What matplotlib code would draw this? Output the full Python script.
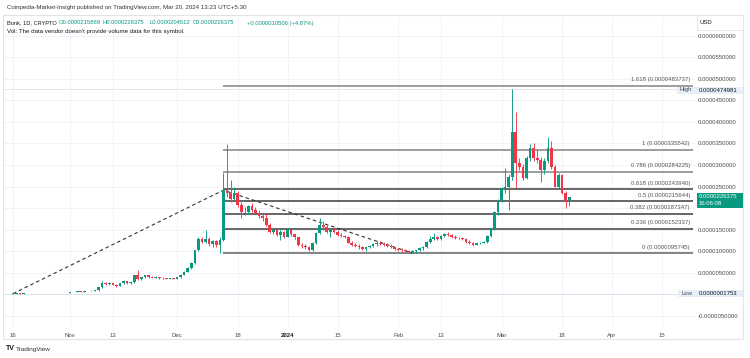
import numpy as np
import pandas as pd
import matplotlib
matplotlib.use('Agg')
import matplotlib.pyplot as plt
import matplotlib.dates as mdates
from matplotlib.patches import Rectangle

plt.rcParams['font.family'] = ['Liberation Sans', 'DejaVu Sans']

W, H = 750, 358
GREEN = '#089981'
RED = '#F23645'
TXT = '#131722'
GRID = '#f0f3fa'

# daily candles 2023-10-16 .. 2024-03-20, prices in 1e-6 USD
dates = pd.date_range('2023-10-16', '2024-03-20', freq='D')
opens = [0.19, 0.20, 0.21, 0.20, 0.22, 0.23, 0.25, 0.24, 0.26, 0.28,
         0.27, 0.30, 0.31, 0.34, 0.36, 0.35, 0.40, 0.46, 0.58, 0.70,
         0.62, 0.72, 0.85, 0.80, 0.95, 1.60, 2.70, 2.35, 2.65, 2.20,
         1.90, 2.60, 3.10, 2.65, 2.80, 4.40, 3.60, 3.95, 4.40, 4.00,
         3.80, 4.05, 3.70, 3.85, 3.60, 3.70, 3.62, 3.95, 4.60, 5.30,
         6.10, 7.20, 10.20, 12.90, 12.20, 12.80, 11.60, 12.30, 11.40, 12.60,
         24.155, 23.50, 22.20, 23.60, 20.80, 19.00, 19.20, 20.40, 19.60, 18.90,
         18.20, 17.60, 16.10, 14.50, 14.90, 13.80, 14.40, 13.40, 15.00, 13.90,
         13.20, 11.50, 11.20, 10.90, 10.30, 11.90, 14.20, 16.00, 15.60, 14.40,
         14.90, 14.50, 13.80, 13.50, 13.30, 12.00, 11.50, 11.30, 10.90, 10.60,
         10.90, 11.20, 11.60, 12.00, 11.70, 11.50, 11.30, 10.90, 10.50, 10.30,
         10.20, 10.00, 9.80, 10.00, 10.20, 10.70, 11.00, 12.10, 12.90, 13.30,
         12.90, 13.60, 14.10, 13.80, 13.40, 13.10, 13.00, 12.80, 12.20, 11.90,
         11.50, 11.80, 12.00, 12.10, 13.60, 15.30, 19.10, 21.90, 24.70, 24.90,
         27.20, 37.70, 30.50, 29.50, 27.00, 31.60, 34.00, 31.60, 31.20, 28.80,
         31.00, 34.00, 29.50, 25.00, 27.70, 23.50, 21.5869]
highs = [0.21, 0.22, 0.22, 0.23, 0.24, 0.26, 0.27, 0.27, 0.29, 0.30,
         0.31, 0.33, 0.35, 0.38, 0.40, 0.42, 0.48, 0.62, 0.80, 0.78,
         0.75, 0.90, 0.95, 1.00, 1.70, 3.00, 2.95, 2.80, 2.75, 2.40,
         2.70, 3.30, 3.20, 2.90, 4.60, 5.60, 4.10, 4.60, 4.50, 4.20,
         4.20, 4.10, 3.95, 3.90, 3.80, 3.80, 4.00, 4.70, 5.40, 6.30,
         7.40, 10.40, 13.20, 13.40, 14.90, 13.20, 12.60, 12.60, 13.20, 28.10,
         34.90, 26.50, 24.80, 23.90, 21.30, 20.20, 20.80, 21.20, 20.30, 19.60,
         18.90, 18.80, 16.50, 15.40, 15.30, 15.00, 14.80, 15.40, 15.30, 14.10,
         13.40, 11.90, 11.60, 11.30, 12.10, 14.40, 17.70, 16.90, 16.40, 15.20,
         15.40, 14.90, 14.30, 13.80, 13.50, 12.40, 11.80, 11.60, 11.30, 11.10,
         11.40, 11.80, 12.30, 12.30, 12.10, 11.90, 11.60, 11.10, 10.80, 10.70,
         10.60, 10.30, 10.20, 10.40, 10.90, 11.30, 12.30, 13.50, 14.20, 13.60,
         13.80, 14.30, 14.40, 14.00, 13.70, 13.40, 13.30, 13.00, 12.50, 12.10,
         12.00, 12.20, 12.40, 13.80, 15.50, 19.40, 22.20, 25.00, 29.30, 27.80,
         47.4981, 42.30, 31.50, 30.30, 32.00, 34.80, 35.20, 33.50, 31.80, 31.50,
         36.50, 35.50, 30.00, 28.20, 28.00, 24.00, 22.6375]
lows = [0.1753, 0.19, 0.19, 0.20, 0.21, 0.22, 0.23, 0.23, 0.25, 0.26,
        0.26, 0.28, 0.30, 0.32, 0.33, 0.34, 0.38, 0.44, 0.55, 0.58,
        0.60, 0.68, 0.74, 0.78, 0.90, 1.50, 2.10, 2.20, 2.10, 1.70,
        1.85, 2.50, 2.50, 2.50, 2.70, 3.40, 3.40, 3.80, 3.90, 3.70,
        3.70, 3.60, 3.60, 3.50, 3.50, 3.50, 3.55, 3.90, 4.50, 5.10,
        5.90, 7.00, 10.00, 12.00, 11.80, 11.20, 11.00, 11.10, 9.50, 12.30,
        22.50, 21.50, 21.80, 20.30, 17.70, 18.30, 18.70, 19.20, 18.60, 17.80,
        17.00, 15.80, 14.20, 13.90, 13.50, 12.60, 13.10, 13.20, 13.60, 12.80,
        11.20, 10.80, 10.60, 10.00, 10.10, 11.60, 14.00, 15.00, 14.20, 13.40,
        14.20, 13.60, 13.20, 13.00, 11.80, 11.20, 11.00, 10.60, 10.40, 10.10,
        10.70, 11.00, 11.30, 11.40, 11.30, 11.00, 10.70, 10.30, 10.00, 9.90,
        9.80, 9.65, 9.5745, 9.70, 10.00, 10.40, 10.80, 11.90, 12.60, 12.60,
        12.70, 13.30, 13.50, 13.10, 12.90, 12.80, 12.60, 12.00, 11.70, 11.30,
        11.40, 11.60, 11.80, 11.90, 13.30, 15.00, 18.50, 21.50, 23.50, 19.50,
        26.50, 24.60, 28.80, 26.50, 26.80, 31.00, 31.00, 30.50, 26.00, 28.00,
        30.50, 29.00, 24.80, 24.50, 23.20, 20.00, 20.4512]
closes = [0.20, 0.21, 0.20, 0.22, 0.23, 0.25, 0.24, 0.26, 0.28, 0.27,
          0.30, 0.31, 0.34, 0.36, 0.35, 0.40, 0.46, 0.58, 0.70, 0.62,
          0.72, 0.85, 0.80, 0.95, 1.60, 2.70, 2.35, 2.65, 2.20, 1.90,
          2.60, 3.10, 2.65, 2.80, 4.40, 3.60, 3.95, 4.40, 4.00, 3.80,
          4.05, 3.70, 3.85, 3.60, 3.70, 3.62, 3.95, 4.60, 5.30, 6.10,
          7.20, 10.20, 12.90, 12.20, 12.80, 11.60, 12.30, 11.40, 12.60, 24.155,
          23.50, 22.20, 23.60, 20.80, 19.00, 19.20, 20.40, 19.60, 18.90, 18.20,
          17.60, 16.10, 14.50, 14.90, 13.80, 14.40, 13.40, 15.00, 13.90, 13.20,
          11.50, 11.20, 10.90, 10.30, 11.90, 14.20, 16.00, 15.60, 14.40, 14.90,
          14.50, 13.80, 13.50, 13.30, 12.00, 11.50, 11.30, 10.90, 10.60, 10.90,
          11.20, 11.60, 12.00, 11.70, 11.50, 11.30, 10.90, 10.50, 10.30, 10.20,
          10.00, 9.80, 10.00, 10.20, 10.70, 11.00, 12.10, 12.90, 13.30, 12.90,
          13.60, 14.10, 13.80, 13.40, 13.10, 13.00, 12.80, 12.20, 11.90, 11.50,
          11.80, 12.00, 12.10, 13.60, 15.30, 19.10, 21.90, 24.70, 24.90, 27.20,
          37.70, 30.50, 29.50, 27.00, 31.60, 34.00, 31.60, 31.20, 28.80, 31.00,
          34.00, 29.50, 25.00, 27.70, 23.50, 21.5869, 22.6375]

# trend based fib extension
fib_ratios = ['1.618', '1', '0.786', '0.618', '0.5', '0.382', '0.236', '0']
fib_prices = ['0.0000483737', '0.0000335542', '0.0000284225', '0.0000243940',
              '0.0000215644', '0.0000187347', '0.0000152337', '0.0000095745']
fib_colors = ['#8c8c8c', '#8c8c8c', '#8c8c8c', '#4d4d4d', '#4d4d4d',
              '#4d4d4d', '#4d4d4d', '#6e6e6e']
trend_dates = ['2023-10-16', '2023-12-14', '2024-02-05']
trend_prices = [0.1753, 24.155, 9.5745]

tick_dates = ['2023-10-16', '2023-11-01', '2023-11-13', '2023-12-01', '2023-12-18',
              '2024-01-01', '2024-01-15', '2024-02-01', '2024-02-13', '2024-03-01',
              '2024-03-18', '2024-04-01', '2024-04-15']
tick_labels = ['16', 'Nov', '13', 'Dec', '18', '2024', '15', 'Feb', '13', 'Mar',
               '18', 'Apr', '15']

high_price, low_price, last_price = 47.4981, 0.1753, 22.6375
s = 1e-6


def fx(x):
    return x / W


def fy(y):
    return 1 - y / H


fig = plt.figure(figsize=(W / 100, H / 100), dpi=100)
fig.patch.set_facecolor('white')

# chart panel frame
fig.patches.append(Rectangle((fx(3), fy(339)), fx(740), (339 - 15) / H,
                             transform=fig.transFigure, fill=False,
                             ec='#e0e3eb', lw=0.8))

ax = fig.add_axes([fx(3.75), fy(327), fx(695 - 3.75), (327 - 17) / H])
d0 = mdates.date2num(pd.Timestamp('2023-10-16'))
ax.set_xlim(d0 - 2.594, d0 + 191.25)
ax.set_ylim(-7.56 * s, 64.3 * s)
for sp in ax.spines.values():
    sp.set_visible(False)

x = mdates.date2num(dates)
o = np.array(opens) * s
hi = np.array(highs) * s
lo = np.array(lows) * s
c = np.array(closes) * s
cols = np.where(c >= o, GREEN, RED)

# grid
yticks = np.arange(-5, 61, 5) * s
tx = mdates.date2num(pd.to_datetime(tick_dates))
for t in tx:
    ax.axvline(t, color=GRID, lw=0.7, zorder=0)
for t in yticks:
    ax.axhline(t, color=GRID, lw=0.7, zorder=0)

# high / low price lines
ax.axhline(high_price * s, color='#d6dae3', lw=0.5, zorder=1)
ax.axhline(low_price * s, color='#d6dae3', lw=0.5, zorder=1)

# fib levels
x_start = mdates.date2num(pd.Timestamp('2023-12-14'))
x_end = d0 + 190.7
for r, p, col in zip(fib_ratios, fib_prices, fib_colors):
    v = float(p)
    ax.plot([x_start, x_end], [v, v], color=col, lw=1.2, zorder=2,
            solid_capstyle='butt')
    ax.annotate(f'{r} ({p})', xy=(fx(690), v), xycoords=('figure fraction', 'data'),
                xytext=(0, 4.2), textcoords='offset points', ha='right', va='center',
                fontsize=4.3, color='#555555')

# trend lines
ax.plot(mdates.date2num(pd.to_datetime(trend_dates)), np.array(trend_prices) * s,
        color='#333333', lw=0.8, dashes=(3.2, 2.6), zorder=3)

# candles
ax.vlines(x, lo, hi, colors=cols, lw=0.65, zorder=4)
ax.bar(x, np.maximum(np.abs(c - o), 0.08 * s), 0.74, bottom=np.minimum(o, c),
       color=cols, lw=0, zorder=5)

# axes ticks
ax.yaxis.tick_right()
ax.set_yticks(yticks)
ax.set_yticklabels(['' if abs(t) < 1e-9 or abs(t - 20 * s) < 1e-9 else f'{t:.10f}'
                    for t in yticks])
ax.tick_params(axis='y', length=0, pad=2.2, labelsize=4.3, labelcolor='#4a4a4a')
ax.set_xticks(tx)
ax.set_xticklabels(tick_labels)
ax.tick_params(axis='x', length=0, pad=4.0, labelsize=4.3, labelcolor='#4a4a4a')
for lab in ax.get_xticklabels():
    if lab.get_text() == '2024':
        lab.set_fontweight('bold')
        lab.set_color(TXT)


# price scale boxes
def box(x0, y0, x1, y1, fc, ec='none'):
    fig.patches.append(Rectangle((fx(x0), fy(y1)), fx(x1 - x0), (y1 - y0) / H,
                                 transform=fig.transFigure, fc=fc, ec=ec, lw=0.6,
                                 zorder=10))


box(697, 15, 743, 30, 'white', '#e0e3eb')
fig.text(fx(700), fy(22.5), 'USD', fontsize=4.3, color=TXT, va='center', zorder=11)

box(677, 86.5, 743, 93.5, '#e6eefa')
fig.text(fx(680), fy(90), 'High', fontsize=4.3, color='#4a4a4a', va='center', zorder=11)
fig.text(fx(698.5), fy(90), f'{high_price * s:.10f}', fontsize=4.3, color=TXT,
         va='center', zorder=11)

box(678, 290, 743, 297, '#e6eefa')
fig.text(fx(681), fy(293.5), 'Low', fontsize=4.3, color='#4a4a4a', va='center', zorder=11)
fig.text(fx(698.5), fy(293.5), f'{low_price * s:.10f}', fontsize=4.3, color=TXT,
         va='center', zorder=11)

box(697, 193, 743, 207.5, GREEN)
fig.text(fx(699), fy(197), f'{last_price * s:.10f}', fontsize=4.3, color='white',
         va='center', zorder=11)
fig.text(fx(699), fy(204), '16:06:08', fontsize=4.3, color='white', va='center',
         zorder=11)

# header
fig.text(fx(7), fy(7.5), 'Coinpedia-Market-Insight published on TradingView.com, '
         'Mar 20, 2024 13:23 UTC+5:30', fontsize=4.4, color='#333333', va='center')
fig.text(fx(7), fy(23), 'Bonk, 1D, CRYPTO', fontsize=4.1, color=TXT, va='center')
ohlc = [(59, 'O0.0000215869'), (102, 'H0.0000226375'),
        (150, 'L0.0000204512'), (193, 'C0.0000226375'),
        (247, '+0.0000010506 (+4.87%)')]
for xp, v in ohlc:
    fig.text(fx(xp), fy(23), v, fontsize=4.2, color=GREEN, va='center')
fig.text(fx(7), fy(32), "Vol: The data vendor doesn't provide volume data for this symbol.",
         fontsize=4.4, color=TXT, va='center')

# footer
fig.text(fx(6), fy(349), 'TV', fontsize=5, fontweight='bold', color=TXT, va='center')
fig.text(fx(16), fy(349), 'TradingView', fontsize=4.6, color='#333333', va='center')

fig.savefig('out.png', dpi=100, facecolor='white')
